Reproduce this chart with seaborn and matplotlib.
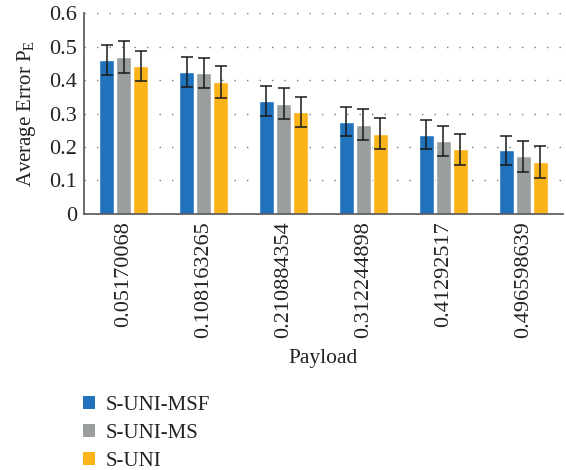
import matplotlib as mpl

mpl.use('Agg')
import pandas as pd
import matplotlib.pyplot as plt
import seaborn as sns
from matplotlib.patches import Patch

payloads = ['0.05170068', '0.108163265', '0.210884354',
            '0.312244898', '0.41292517', '0.496598639']
methods = ['S-UNI-MSF', 'S-UNI-MS', 'S-UNI']
colors = ['#1f72bb', '#9a9e9f', '#fbb31a']

msf_mean = [0.459, 0.424, 0.338, 0.276, 0.237, 0.190]
ms_mean = [0.468, 0.421, 0.329, 0.267, 0.219, 0.172]
uni_mean = [0.442, 0.394, 0.305, 0.240, 0.193, 0.154]
msf_err = [0.045, 0.044, 0.044, 0.044, 0.044, 0.044]
ms_err = [0.048, 0.045, 0.046, 0.046, 0.045, 0.046]
uni_err = [0.046, 0.047, 0.045, 0.046, 0.046, 0.048]

df = pd.DataFrame({
    'Payload': payloads * 3,
    'Method': [m for m in methods for _ in payloads],
    'PE': msf_mean + ms_mean + uni_mean,
    'err': msf_err + ms_err + uni_err,
})

sns.set_style('white')
plt.rcParams['font.family'] = ['Liberation Serif', 'DejaVu Serif']
plt.rcParams['mathtext.fontset'] = 'custom'
plt.rcParams['mathtext.rm'] = 'Liberation Serif'

fig = plt.figure(figsize=(5.66, 4.70), dpi=100)
ax = fig.add_axes([0.148, 0.545, 0.847, 0.427])

sns.barplot(data=df, x='Payload', y='PE', hue='Method', order=payloads,
            hue_order=methods, palette=colors, width=0.64, gap=0.1,
            errorbar=None, saturation=1, legend=False, ax=ax)

# error bars on top of the seaborn bars (patches are in hue order)
bars = [p for p in ax.patches if p.get_height() > 0]
xs = [p.get_x() + p.get_width() / 2 for p in bars]
ys = [p.get_height() for p in bars]
ax.errorbar(xs, ys, yerr=df['err'].values, fmt='none', ecolor='#1a1a1a',
            elinewidth=1.1, capsize=4, capthick=1.1, zorder=5)

ax.set_ylim(0, 0.6)
ax.set_yticks([0, 0.1, 0.2, 0.3, 0.4, 0.5, 0.6])
ax.set_yticklabels(['0', '0.1', '0.2', '0.3', '0.4', '0.5', '0.6'])
ax.set_xlim(-0.5, 5.5)
ax.yaxis.grid(True, linestyle=(0, (1, 8)), color='#777777', lw=1.0)
ax.set_axisbelow(True)
ax.tick_params(axis='both', length=0, labelsize=16, colors='#222222', pad=5)
plt.setp(ax.get_xticklabels(), rotation=90)

ax.set_xlabel('Payload', fontsize=15.5, color='#222222', labelpad=8)
ax.set_ylabel('Average Error P$_\\mathrm{E}$', fontsize=15, color='#222222',
              labelpad=8)

for s in ['top', 'right']:
    ax.spines[s].set_visible(False)
for s in ['left', 'bottom']:
    ax.spines[s].set_color('#555555')
    ax.spines[s].set_linewidth(1.2)

handles = [Patch(facecolor=c, edgecolor='none') for c in colors]
fig.legend(handles, methods, loc='upper left', bbox_to_anchor=(0.146, 0.157),
           frameon=False, fontsize=15, handlelength=0.6, handleheight=0.6,
           handletextpad=0.5, labelspacing=0.42, borderaxespad=0,
           borderpad=0, labelcolor='#222222')

plt.savefig('out.png', dpi=100)
